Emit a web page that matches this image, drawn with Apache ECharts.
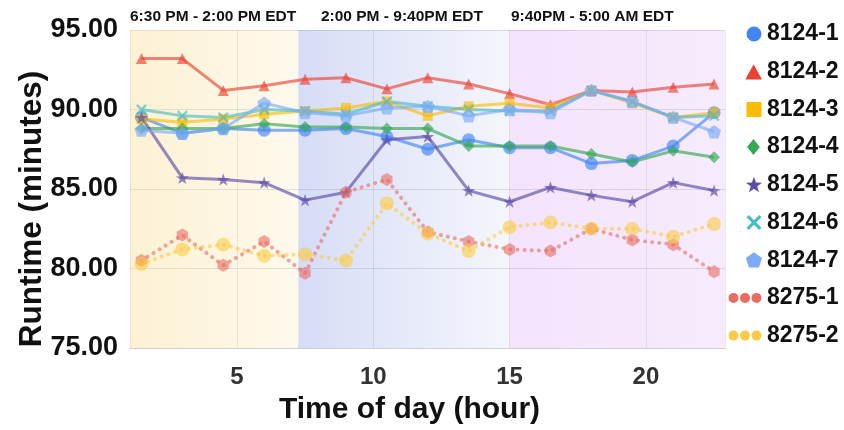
<!DOCTYPE html>
<html>
<head>
<meta charset="utf-8">
<script src="https://cdn.jsdelivr.net/npm/echarts@6/dist/echarts.min.js"></script>
<style>
  html, body { margin: 0; padding: 0; background: #fff; }
  #chart { width: 844px; height: 430px; }
</style>
</head>
<body>
<div id="chart"></div>
<script>
// hour of day for each run
const hours = [1.5, 3, 4.5, 6, 7.5, 9, 10.5, 12, 13.5, 15, 16.5, 18, 19.5, 21, 22.5];

// runtime (minutes) per machine
const run8124_1 = [89.5, 88.5, 88.8, 88.7, 88.7, 88.8, 88.3, 87.5, 88.1, 87.6, 87.6, 86.6, 86.8, 87.7, 89.8];
const run8124_2 = [93.2, 93.2, 91.2, 91.5, 91.9, 92.0, 91.3, 92.0, 91.6, 91.0, 90.3, 91.2, 91.1, 91.4, 91.6];
const run8124_3 = [89.4, 89.2, 89.4, 89.7, 89.9, 90.1, 90.5, 89.6, 90.2, 90.4, 90.1, 91.2, 90.4, 89.5, 89.8];
const run8124_4 = [88.8, 88.8, 88.8, 89.1, 88.9, 88.9, 88.8, 88.8, 87.7, 87.7, 87.7, 87.2, 86.7, 87.4, 87.0];
const run8124_5 = [89.5, 85.7, 85.6, 85.4, 84.3, 84.8, 88.1, 88.3, 84.9, 84.2, 85.1, 84.6, 84.2, 85.4, 84.9];
const run8124_6 = [90.0, 89.6, 89.5, 90.0, 89.9, 89.7, 90.5, 90.2, 90.0, 89.9, 89.9, 91.2, 90.5, 89.5, 89.6];
const run8124_7 = [88.7, 88.5, 88.8, 90.4, 89.8, 89.6, 90.1, 90.2, 89.6, 90.0, 89.8, 91.2, 90.5, 89.5, 88.6];
const run8275_1 = [80.5, 82.1, 80.2, 81.7, 79.7, 84.8, 85.6, 82.3, 81.7, 81.2, 81.1, 82.5, 81.8, 81.5, 79.8];
const run8275_2 = [80.3, 81.2, 81.5, 80.8, 80.9, 80.5, 84.1, 82.2, 81.1, 82.6, 82.9, 82.5, 82.5, 82.0, 82.8];

const seriesNames = ['8124-1', '8124-2', '8124-3', '8124-4', '8124-5', '8124-6', '8124-7', '8275-1', '8275-2'];
const seriesValues = [run8124_1, run8124_2, run8124_3, run8124_4, run8124_5, run8124_6, run8124_7, run8275_1, run8275_2];

// time windows shaded in the background
const bandLabels = ['6:30 PM - 2:00 PM EDT', '2:00 PM - 9:40PM EDT', '9:40PM - 5:00 AM EDT'];
const bandStart = [1.08, 7.25, 15];
const bandEnd = [7.25, 15, 22.9];

const colors = ['#4285f4', '#ea4335', '#fbbc04', '#34a853', '#5b4ca8', '#46bdc6', '#7baaf7', '#ea6b60', '#fbcb45'];
const FONT = 'Liberation Sans';

// marker shapes
function poly(pts, dx, dy, s) {
  return pts.map((p, i) => (i ? 'L' : 'M') + (p[0] * s + dx).toFixed(2) + ',' + (p[1] * s + dy).toFixed(2)).join('') + 'Z';
}
function circ(cx, cy, r) {
  return 'M' + (cx - r) + ',' + cy + 'a' + r + ',' + r + ' 0 1,0 ' + (2 * r) + ',0a' + r + ',' + r + ' 0 1,0 ' + (-2 * r) + ',0Z';
}
const STAR = [[0, -1], [0.235, -0.324], [0.951, -0.309], [0.38, 0.124], [0.588, 0.809], [0, 0.4], [-0.588, 0.809], [-0.38, 0.124], [-0.951, -0.309], [-0.235, -0.324]];
const PENT = [[0, -1], [0.951, -0.309], [0.588, 0.809], [-0.588, 0.809], [-0.951, -0.309]];
const HEX = [[0, -1], [0.866, -0.5], [0.866, 0.5], [0, 1], [-0.866, 0.5], [-0.866, -0.5]];
const CROSS = [[-1, -0.7], [-0.7, -1], [0, -0.3], [0.7, -1], [1, -0.7], [0.3, 0], [1, 0.7], [0.7, 1], [0, 0.3], [-0.7, 1], [-1, 0.7], [-0.3, 0]];
const TRI = [[0, -1], [1, 0.8], [-1, 0.8]];
const SQ = [[-1, -1], [1, -1], [1, 1], [-1, 1]];
const DIA = [[0, -1], [0.8, 0], [0, 1], [-0.8, 0]];

const symbols = ['circle', 'triangle', 'rect', 'diamond',
  'path://' + poly(STAR, 0, 0, 10), 'path://' + poly(CROSS, 0, 0, 10),
  'path://' + poly(PENT, 0, 0, 10), 'path://' + poly(HEX, 0, 0, 10), 'circle'];
const symbolSizes = [13, 11, 10, 12, 13, 11, 14, 13, 14];

// legend icons sit at the right end of a 34x16 box (tiny corner anchors fix the box)
const ANCHOR = 'M0,0L0.01,0L0,0.01ZM34,16L33.99,16L34,15.99Z';
const dots = circ(5.5, 8, 5) + circ(17, 8, 5) + circ(28.5, 8, 5);
const legendIcons = [
  circ(26, 8, 7.5), poly(TRI, 26, 9, 8.5), poly(SQ, 26, 8, 7.5), poly(DIA, 26, 8, 8.5),
  poly(STAR, 26, 8.5, 8.5), poly(CROSS, 26, 8, 7.5), poly(PENT, 26, 8.5, 8.5), dots, dots
].map(p => 'path://' + ANCHOR + p);

const bandColors = [
  ['rgba(249,215,130,0.35)', 'rgba(249,215,130,0.14)'],
  ['rgba(120,140,225,0.30)', 'rgba(120,140,225,0.08)'],
  ['rgba(200,130,240,0.22)', 'rgba(200,130,240,0.16)']
];
const bandLabelOffset = [[-1, 0], [-2, 0], [-25, 0]];

const chart = echarts.init(document.getElementById('chart'));

const series = seriesNames.map((name, k) => {
  const dotted = k >= 7;
  const s = {
    name: name,
    type: 'line',
    data: hours.map((h, i) => [h, seriesValues[k][i]]),
    symbol: symbols[k],
    symbolSize: symbolSizes[k],
    symbolKeepAspect: true,
    z: 2,
    lineStyle: dotted
      ? { color: colors[k], width: 4, type: [0.1, 7], cap: 'round', opacity: 0.6 }
      : { color: colors[k], width: 3, opacity: 0.65 },
    itemStyle: { color: colors[k], opacity: dotted ? 0.6 : 0.65, borderWidth: 0 },
    emphasis: { disabled: true }
  };
  if (k === 0) {
    s.markArea = {
      silent: true,
      data: bandLabels.map((label, b) => [
        {
          name: label,
          xAxis: bandStart[b],
          itemStyle: {
            color: {
              type: 'linear', x: 0, y: 0, x2: 1, y2: 0,
              colorStops: [
                { offset: 0, color: bandColors[b][0] },
                { offset: 1, color: bandColors[b][1] }
              ]
            }
          },
          label: {
            show: true,
            position: 'top',
            distance: 5,
            offset: bandLabelOffset[b],
            color: '#111',
            fontSize: 15.5,
            fontWeight: 'bold',
            fontFamily: FONT
          }
        },
        { xAxis: bandEnd[b] }
      ])
    };
  }
  return s;
});

const option = {
  animation: false,
  backgroundColor: '#fff',
  textStyle: { fontFamily: FONT },
  grid: { left: 130, right: 119, top: 30, bottom: 81, containLabel: false },
  legend: {
    orient: 'vertical',
    left: 728,
    top: 21,
    padding: 0,
    itemWidth: 34,
    itemHeight: 16,
    itemGap: 11.7,
    selectedMode: false,
    itemStyle: { opacity: 1, borderWidth: 0 },
    textStyle: { fontSize: 23, fontWeight: 'bold', color: '#111', fontFamily: FONT, lineHeight: 26 },
    data: seriesNames.map((n, i) => ({ name: n, icon: legendIcons[i] }))
  },
  xAxis: {
    type: 'value',
    min: bandStart[0],
    max: bandEnd[2],
    splitNumber: 5,
    name: 'Time of day (hour)',
    nameLocation: 'middle',
    nameGap: 47,
    nameMoveOverlap: false,
    nameTextStyle: { fontSize: 30, fontWeight: 'bold', color: '#111', fontFamily: FONT, padding: [0, 36, 0, 0] },
    axisLine: { show: true, lineStyle: { color: '#d0d0d0' } },
    axisTick: { show: false },
    axisLabel: {
      showMinLabel: false,
      showMaxLabel: false,
      fontSize: 24,
      fontWeight: 'bold',
      color: '#333',
      margin: 17
    },
    splitLine: { show: true, lineStyle: { color: 'rgba(0,0,0,0.09)' } }
  },
  yAxis: {
    type: 'value',
    min: 75,
    max: 95,
    interval: 5,
    name: 'Runtime (minutes)',
    nameLocation: 'middle',
    nameGap: 82,
    nameMoveOverlap: false,
    nameTextStyle: { fontSize: 31.5, fontWeight: 'bold', color: '#111', fontFamily: FONT, padding: [0, 40, 0, 0] },
    axisLine: { show: false },
    axisTick: { show: false },
    axisLabel: {
      formatter: v => v.toFixed(2),
      fontSize: 27,
      fontWeight: 'bold',
      color: '#111',
      margin: 12
    },
    splitLine: { show: true, lineStyle: { color: 'rgba(0,0,0,0.12)' } }
  },
  series: series
};

chart.setOption(option);
</script>
</body>
</html>
